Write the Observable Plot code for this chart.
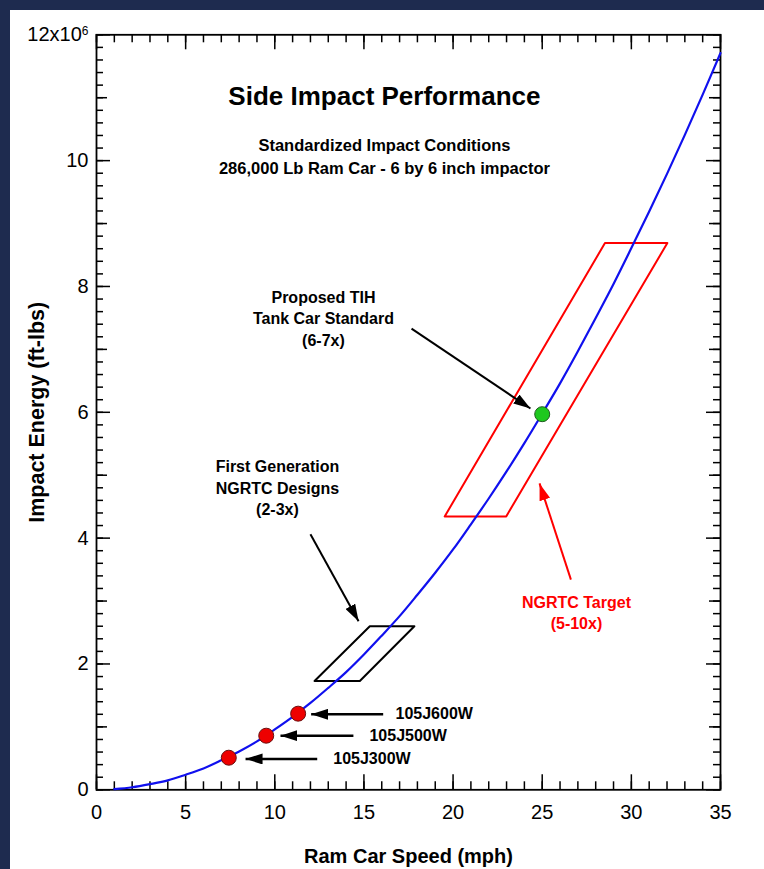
<!DOCTYPE html>
<html><head><meta charset="utf-8">
<script src="https://cdn.jsdelivr.net/npm/d3@7"></script>
<script src="https://cdn.jsdelivr.net/npm/@observablehq/plot@0.6"></script>
<style>
html,body{margin:0;padding:0;background:#fff;}
#wrap{width:754px;height:859px;border-left:10px solid #1e2b4f;border-top:10px solid #1e2b4f;background:#fff;overflow:hidden;}
</style></head><body><div id="wrap"></div>
<script>
// ---- data (energy in millions of ft-lbs) ----
const speed = [1,2,3,4,5,6,7,8,9,10,11,12,13,14,15,16,17,18,19,20,21,22,23,24,25,26,27,28,29,30,31,32,33,34,35];
const energy = [0.01,0.04,0.09,0.15,0.24,0.34,0.47,0.61,0.77,0.96,1.16,1.38,1.62,1.87,2.15,2.45,2.76,3.10,3.45,3.82,4.22,4.63,5.06,5.51,5.98,6.46,6.97,7.50,8.04,8.61,9.19,9.79,10.41,11.05,11.71];

const designNames = ["105J300W","105J500W","105J600W"];
const designSpeed = [7.42, 9.52, 11.31];
const designEnergy = [0.51, 0.86, 1.21];
const designArrowFrom = [12.38, 14.41, 16.08];
const designArrowTo = [8.36, 10.32, 12.04];
const designArrowY = [0.49, 0.86, 1.20];
const designLabelX = [13.28, 15.31, 16.77];

const tihSpeed = [25];
const tihEnergy = [5.97];

const firstGenBoxX = [12.23, 15.33, 17.83, 14.77, 12.23];
const firstGenBoxY = [1.73, 2.60, 2.60, 1.73, 1.73];
const targetBoxX = [19.53, 28.52, 32.02, 22.98, 19.53];
const targetBoxY = [4.345, 8.69, 8.69, 4.345, 4.345];

const noteTexts = ["Proposed TIH\nTank Car Standard\n(6-7x)", "First Generation\nNGRTC Designs\n(2-3x)"];
const noteX = [12.73, 10.15];
const noteY = [7.51, 4.815];
const noteArrowX1 = [17.67, 12.0];
const noteArrowY1 = [7.33, 4.06];
const noteArrowX2 = [24.34, 14.7];
const noteArrowY2 = [6.06, 2.68];

const targetText = ["NGRTC Target\n(5-10x)"];
const targetTextX = [26.92];
const targetTextY = [2.825];
const targetArrowX1 = [26.61], targetArrowY1 = [3.34], targetArrowX2 = [24.85], targetArrowY2 = [4.87];

const titleText = ["Side Impact Performance"];
const subtitleLines = ["Standardized Impact Conditions", "286,000 Lb Ram Car - 6 by 6 inch impactor"];
const headX = 16.15;
const titleY = [11.02];
const subtitleY = [10.24, 9.875];

const xTickLabels = [0,5,10,15,20,25,30,35];
const xMinorTicks = [0,1,2,3,4,5,6,7,8,9,10,11,12,13,14,15,16,17,18,19,20,21,22,23,24,25,26,27,28,29,30,31,32,33,34,35];
const yTickLabels = [0,2,4,6,8,10,12];
const yMidTicks = [1,3,5,7,9,11];
const yMinorTicks = d3.range(0, 12.001, 0.2).map(v => Math.round(v*10)/10);
const xTitle = "Ram Car Speed (mph)";
const yTitle = "Impact Energy (ft-lbs)";

// ---- tables ----
const curve = speed.map((s,i) => ({s, e: energy[i]}));
const designs = designNames.map((n,i) => ({n, x: designSpeed[i], y: designEnergy[i], ax1: designArrowFrom[i], ax2: designArrowTo[i], ay: designArrowY[i], lx: designLabelX[i]}));
const tih = tihSpeed.map((s,i) => ({x: s, y: tihEnergy[i]}));
const box1 = firstGenBoxX.map((x,i) => ({x, y: firstGenBoxY[i]}));
const box2 = targetBoxX.map((x,i) => ({x, y: targetBoxY[i]}));
const notes = noteTexts.map((t,i) => ({t, x: noteX[i], y: noteY[i], x1: noteArrowX1[i], y1: noteArrowY1[i], x2: noteArrowX2[i], y2: noteArrowY2[i]}));
const target = targetText.map((t,i) => ({t, x: targetTextX[i], y: targetTextY[i], x1: targetArrowX1[i], y1: targetArrowY1[i], x2: targetArrowX2[i], y2: targetArrowY2[i]}));
const subs = subtitleLines.map((t,i) => ({t, y: subtitleY[i]}));

// ---- layout ----
const font = "'Liberation Sans', Arial, Helvetica, sans-serif";
const W = 754, H = 859, mL = 86, mR = 44, mT = 24.3, mB = 79.7;
const pw = W - mL - mR, ph = H - mT - mB;

function solidHead(color) {
  const m = d3.create("svg:marker")
    .attr("viewBox", "-17 -5.5 17 11")
    .attr("markerWidth", 17).attr("markerHeight", 11)
    .attr("markerUnits", "userSpaceOnUse")
    .attr("refX", 0).attr("refY", 0)
    .attr("orient", "auto");
  m.append("path").attr("d", "M-17,-5.5L0,0L-17,5.5Z").attr("fill", color).attr("stroke", "none");
  return m.node();
}

const bold = {fontFamily: font, fontWeight: "bold"};

const chart = Plot.plot({
  width: W, height: H,
  marginLeft: mL, marginRight: mR, marginTop: mT, marginBottom: mB,
  style: {fontFamily: font, background: "white", color: "black"},
  x: {domain: [0, 35]},
  y: {domain: [0, 12]},
  marks: [
    // ticks (inward)
    Plot.tickX(xMinorTicks, {x: d => d, insetTop: ph - 8, stroke: "black", strokeWidth: 1.5}),
    Plot.tickX(xTickLabels, {x: d => d, insetTop: ph - 15, stroke: "black", strokeWidth: 1.5}),
    Plot.tickX(xMinorTicks, {x: d => d, insetBottom: ph - 8, stroke: "black", strokeWidth: 1.5}),
    Plot.tickX(xTickLabels, {x: d => d, insetBottom: ph - 15, stroke: "black", strokeWidth: 1.5}),
    Plot.tickY(yMinorTicks, {y: d => d, insetRight: pw - 7, stroke: "black", strokeWidth: 1.5}),
    Plot.tickY(yMidTicks, {y: d => d, insetRight: pw - 11, stroke: "black", strokeWidth: 1.5}),
    Plot.tickY(yTickLabels, {y: d => d, insetRight: pw - 14, stroke: "black", strokeWidth: 1.5}),
    Plot.tickY(yMinorTicks, {y: d => d, insetLeft: pw - 7, stroke: "black", strokeWidth: 1.5}),
    Plot.tickY(yMidTicks, {y: d => d, insetLeft: pw - 11, stroke: "black", strokeWidth: 1.5}),
    Plot.tickY(yTickLabels, {y: d => d, insetLeft: pw - 14, stroke: "black", strokeWidth: 1.5}),
    Plot.frame({stroke: "black", strokeWidth: 1.8}),
    Plot.axisX({ticks: xTickLabels, tickSize: 0, tickPadding: 15, fontSize: 20, tickFormat: d => String(d), label: null}),
    Plot.axisY({ticks: yTickLabels, tickSize: 0, tickPadding: 8, fontSize: 20, tickFormat: d => d === 12 ? "12x10" : String(d), label: null}),
    Plot.text([xTitle], {frameAnchor: "bottom", dy: 67, lineAnchor: "middle", textAnchor: "middle", fontSize: 20, ...bold}),
    Plot.text([yTitle], {frameAnchor: "left", dx: -59, rotate: -90, lineAnchor: "middle", textAnchor: "middle", fontSize: 21.5, ...bold}),
    // title & subtitles
    Plot.text(titleText, {x: () => headX, y: () => titleY[0], fontSize: 26, ...bold}),
    Plot.text(subs, {x: () => headX, y: "y", text: "t", fontSize: 16.5, ...bold}),
    // boxes
    Plot.line(box1, {x: "x", y: "y", stroke: "black", strokeWidth: 2}),
    Plot.line(box2, {x: "x", y: "y", stroke: "#ff0000", strokeWidth: 2}),
    // curve
    Plot.line(curve, {x: "s", y: "e", curve: "catmull-rom", stroke: "#1010ee", strokeWidth: 2.2}),
    // arrows
    Plot.link(designs, {x1: "ax1", y1: "ay", x2: "ax2", y2: "ay", stroke: "black", strokeWidth: 2.5, markerEnd: solidHead}),
    Plot.link(notes, {x1: "x1", y1: "y1", x2: "x2", y2: "y2", stroke: "black", strokeWidth: 2, markerEnd: solidHead}),
    Plot.link(target, {x1: "x1", y1: "y1", x2: "x2", y2: "y2", stroke: "#ff0000", strokeWidth: 2, markerEnd: solidHead}),
    // points
    Plot.dot(designs, {x: "x", y: "y", r: 7.5, fill: "#ee0000", stroke: "#6a1010", strokeWidth: 1}),
    Plot.dot(tih, {x: "x", y: "y", r: 7.5, fill: "#1ec81e", stroke: "#1f5a1f", strokeWidth: 1}),
    // labels
    Plot.text(designs, {x: "lx", y: "ay", text: "n", textAnchor: "start", fontSize: 16, ...bold}),
    Plot.text(notes, {x: "x", y: "y", text: "t", fontSize: 16, lineHeight: 1.34, ...bold}),
    Plot.text(target, {x: "x", y: "y", text: "t", fontSize: 16, lineHeight: 1.3, fill: "#ff0000", ...bold})
  ]
});

d3.select(chart).selectAll("text").filter(function() { return this.textContent === "12x10"; })
  .append("tspan").attr("dy", "-0.55em").attr("font-size", "12px").text("6");

document.getElementById("wrap").appendChild(chart);
</script></body></html>
